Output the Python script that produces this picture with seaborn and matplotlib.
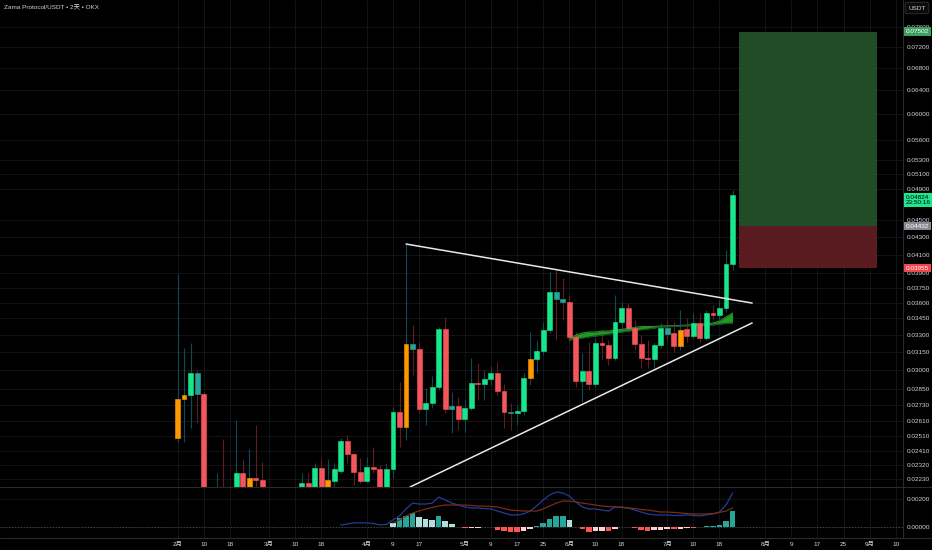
import numpy as np
import pandas as pd
import matplotlib
matplotlib.use("Agg")
import matplotlib.pyplot as plt
import matplotlib.dates as mdates
import matplotlib.ticker as mticker
import matplotlib.transforms as mtransforms
from matplotlib.lines import Line2D
from matplotlib import font_manager
import seaborn as sns

# ---- data (2-day candles, OKX ZAMA/USDT) ----
first_candle = "2026-02-02"
opens = [0.02495, 0.02773, 0.02803, 0.02976, 0.02811, 0.01998, 0.01971, 0.02081, 0.02025, 0.02138,
         0.02269, 0.02138, 0.02239, 0.02227, 0.02110, 0.02053, 0.02081, 0.02042, 0.02110, 0.02138,
         0.02209, 0.02138, 0.02300, 0.02138, 0.02221, 0.02282, 0.02475, 0.02389, 0.02275, 0.02221,
         0.02306, 0.02294, 0.02138, 0.02294, 0.02677, 0.02570, 0.03219, 0.03176, 0.02699, 0.02743,
         0.02865, 0.03353, 0.02699, 0.02721, 0.02627, 0.02707, 0.02896, 0.02888, 0.02928, 0.02976,
         0.02834, 0.02677, 0.02670, 0.02685, 0.02936, 0.03091, 0.03158, 0.03344, 0.03706, 0.03637,
         0.03607, 0.03281, 0.02912, 0.02992, 0.02888, 0.03228, 0.03210, 0.03099, 0.03417, 0.03549,
         0.03362, 0.03219, 0.03099, 0.03091, 0.03210, 0.03362, 0.03316, 0.03202, 0.03353, 0.03290,
         0.03408, 0.03272, 0.03501, 0.03482, 0.03549, 0.03998]
closes = [0.02773, 0.02803, 0.02976, 0.02811, 0.01998, 0.01971, 0.02081, 0.02025, 0.02138, 0.02269,
          0.02138, 0.02239, 0.02227, 0.02110, 0.02053, 0.02081, 0.02042, 0.02110, 0.02138, 0.02209,
          0.02138, 0.02300, 0.02138, 0.02227, 0.02294, 0.02475, 0.02389, 0.02275, 0.02221, 0.02306,
          0.02294, 0.02138, 0.02294, 0.02677, 0.02570, 0.03219, 0.03176, 0.02699, 0.02743, 0.02865,
          0.03353, 0.02699, 0.02721, 0.02627, 0.02707, 0.02896, 0.02888, 0.02928, 0.02976, 0.02834,
          0.02677, 0.02670, 0.02685, 0.02936, 0.03091, 0.03158, 0.03344, 0.03706, 0.03637, 0.03607,
          0.03281, 0.02912, 0.02992, 0.02888, 0.03228, 0.03210, 0.03099, 0.03417, 0.03549, 0.03362,
          0.03219, 0.03099, 0.03091, 0.03210, 0.03362, 0.03307, 0.03202, 0.03344, 0.03290, 0.03408,
          0.03272, 0.03501, 0.03482, 0.03549, 0.03998, 0.04824]
highs = [0.03891, 0.03184, 0.03228, 0.03000, 0.02826, 0.02110, 0.02269, 0.02488, 0.02191, 0.02620,
         0.02357, 0.02422, 0.02585, 0.02338, 0.02138, 0.02121, 0.02110, 0.02138, 0.02167, 0.02269,
         0.02269, 0.02332, 0.02357, 0.02357, 0.02332, 0.02495, 0.02516, 0.02396, 0.02363, 0.02370,
         0.02435, 0.02319, 0.02332, 0.02714, 0.02904, 0.04221, 0.03389, 0.03236, 0.02857, 0.02952,
         0.03371, 0.03464, 0.02826, 0.02788, 0.02773, 0.03099, 0.03058, 0.03000, 0.03033, 0.03066,
         0.02888, 0.02743, 0.02729, 0.02976, 0.03325, 0.03245, 0.03417, 0.03913, 0.03934, 0.03850,
         0.03676, 0.03325, 0.03141, 0.03236, 0.03272, 0.03344, 0.03254, 0.03676, 0.03607, 0.03597,
         0.03435, 0.03298, 0.03254, 0.03228, 0.03408, 0.03435, 0.03417, 0.03530, 0.03454, 0.03501,
         0.03501, 0.03530, 0.03578, 0.03627, 0.04153, 0.04886]
lows = [0.02468, 0.02468, 0.02564, 0.02599, 0.01945, 0.01893, 0.01945, 0.01998, 0.01998, 0.02121,
        0.02110, 0.02110, 0.02138, 0.02081, 0.02025, 0.02042, 0.02025, 0.02025, 0.02081, 0.02110,
        0.02110, 0.02121, 0.02121, 0.02121, 0.02167, 0.02269, 0.02332, 0.02197, 0.02209, 0.02215,
        0.02269, 0.02121, 0.02121, 0.02239, 0.02435, 0.02482, 0.02960, 0.02670, 0.02585, 0.02707,
        0.02842, 0.02670, 0.02529, 0.02550, 0.02536, 0.02692, 0.02766, 0.02766, 0.02881, 0.02803,
        0.02564, 0.02550, 0.02585, 0.02656, 0.02881, 0.02976, 0.03125, 0.03316, 0.03254, 0.03435,
        0.03236, 0.02865, 0.02751, 0.02842, 0.02865, 0.03082, 0.03041, 0.03082, 0.03344, 0.03325,
        0.03167, 0.03016, 0.03016, 0.03016, 0.03184, 0.03254, 0.03150, 0.03167, 0.03236, 0.03272,
        0.03236, 0.03254, 0.03435, 0.03435, 0.03511, 0.03934]
# bar colour codes as painted on the chart: g green, r red, o orange, t teal
bar_codes = list("oogtrrgrgg" "rorrrgrggg" "rgroggrrrg" "rrggrotrgg"
                 "grtrggrggr" "rtggogggtt" "rrgrgrrggr" "rrrggtrorg" "rgrggg")

# moving-average ribbon, from candle 60 on
ribbon_start = 60
ribbon_fast = [0.03263, 0.03298, 0.03316, 0.03325, 0.03325, 0.03334, 0.03334, 0.03344, 0.03349, 0.03358,
               0.03366, 0.03375, 0.03376, 0.03376, 0.03380, 0.03382, 0.03383, 0.03385, 0.03389, 0.03390,
               0.03394, 0.03398, 0.03408, 0.03426, 0.03464, 0.03501]
ribbon_slow = [0.03254, 0.03263, 0.03272, 0.03281, 0.03290, 0.03298, 0.03307, 0.03316, 0.03325, 0.03334,
               0.03340, 0.03346, 0.03353, 0.03362, 0.03371, 0.03373, 0.03376, 0.03380, 0.03381, 0.03385,
               0.03386, 0.03389, 0.03390, 0.03398, 0.03403, 0.03408]

# MACD pane
macd_start = 25
macd_line = [0.00014, 0.00021, 0.00029, 0.00029, 0.00029, 0.00025, 0.00014, 0.00018, 0.00050, 0.00079,
             0.00129, 0.00171, 0.00164, 0.00164, 0.00171, 0.00214, 0.00193, 0.00171, 0.00157, 0.00143,
             0.00136, 0.00136, 0.00132, 0.00129, 0.00114, 0.00100, 0.00086, 0.00086, 0.00093, 0.00114,
             0.00150, 0.00193, 0.00229, 0.00250, 0.00243, 0.00221, 0.00179, 0.00143, 0.00129, 0.00129,
             0.00121, 0.00114, 0.00143, 0.00143, 0.00136, 0.00121, 0.00107, 0.00093, 0.00086, 0.00086,
             0.00086, 0.00082, 0.00082, 0.00086, 0.00082, 0.00079, 0.00086, 0.00093, 0.00107, 0.00157,
             0.00243]
signal_start = 33
signal_line = [0.00029, 0.00050, 0.00079, 0.00100, 0.00114, 0.00129, 0.00139, 0.00150, 0.00157, 0.00157,
               0.00157, 0.00157, 0.00154, 0.00150, 0.00150, 0.00146, 0.00143, 0.00132, 0.00121, 0.00118,
               0.00114, 0.00114, 0.00114, 0.00129, 0.00150, 0.00171, 0.00186, 0.00186, 0.00179, 0.00171,
               0.00164, 0.00157, 0.00150, 0.00146, 0.00143, 0.00139, 0.00136, 0.00132, 0.00125, 0.00121,
               0.00114, 0.00107, 0.00107, 0.00104, 0.00100, 0.00096, 0.00093, 0.00093, 0.00093, 0.00096,
               0.00104, 0.00114, 0.00136]
histogram = [0.00030, 0.00062, 0.00078, 0.00100, 0.00072, 0.00054, 0.00050, 0.00076, 0.00042, 0.00021,
             0.00003, -0.00010, -0.00007, -0.00005, 0.00002, -0.00003, -0.00019, -0.00026, -0.00033, -0.00038,
             -0.00026, -0.00012, 0.00010, 0.00029, 0.00057, 0.00076, 0.00077, 0.00052, 0.00002, -0.00014,
             -0.00038, -0.00031, -0.00026, -0.00029, -0.00012, 0.00002, -0.00002, -0.00010, -0.00019, -0.00026,
             -0.00025, -0.00019, -0.00012, -0.00017, -0.00012, -0.00009, -0.00010, -0.00002, 0.00005, 0.00010,
             0.00017, 0.00045, 0.00117]

# drawings
upper_line_dates = ["2026-04-13 00:00", "2026-07-28 00:00"]
upper_line_prices = [0.04221, 0.03597]
lower_line_dates = ["2026-04-14 05:00", "2026-07-28 00:00"]
lower_line_prices = [0.02185, 0.03408]
box_dates = ["2026-07-24 00:00", "2026-09-04 05:00"]
target_price, entry_price, stop_price = 0.07502, 0.04432, 0.03955
last_price, countdown = 0.04824, "23:50:16"

price_ticks = [0.0223, 0.0232, 0.0241, 0.0251, 0.0261, 0.0273, 0.0285, 0.0300, 0.0315, 0.0330,
               0.0345, 0.0360, 0.0375, 0.0390, 0.0410, 0.0430, 0.0450, 0.0490, 0.0510, 0.0530,
               0.0560, 0.0600, 0.0640, 0.0680, 0.0720, 0.0760]
date_ticks = ["2026-02-02", "2026-02-10", "2026-02-18", "2026-03-02", "2026-03-10", "2026-03-18",
              "2026-04-01", "2026-04-09", "2026-04-17", "2026-05-01", "2026-05-09", "2026-05-17",
              "2026-05-25", "2026-06-02", "2026-06-10", "2026-06-18", "2026-07-02", "2026-07-10",
              "2026-07-18", "2026-08-01", "2026-08-09", "2026-08-17", "2026-08-25", "2026-09-02",
              "2026-09-10"]
date_labels = ["2月", "10", "18", "3月", "10", "18", "4月", "9", "17", "5月", "9", "17", "25",
               "6月", "10", "18", "7月", "10", "18", "8月", "9", "17", "25", "9月", "10"]

# ---- style ----
BG = "#000000"
GRID = "#15171c"
TXT = "#d1d4dc"
SEP = "#2a2a2a"
sns.set_theme(style="dark", rc={"axes.facecolor": BG, "figure.facecolor": BG,
                                "savefig.facecolor": BG, "axes.edgecolor": SEP})
plt.rcParams["font.family"] = ["DejaVu Sans", "Noto Sans CJK SC"]

installed = {f.name for f in font_manager.fontManager.ttflist}
if "Liberation Sans Narrow" in installed:
    LBL_FAM, LBL_SIZE = ["Liberation Sans Narrow", "Noto Sans CJK SC"], 5.4
else:
    LBL_FAM, LBL_SIZE = ["Liberation Sans", "Noto Sans CJK SC"], 4.6

body_col = {"g": "#19e68c", "r": "#f5565b", "o": "#ff9800", "t": "#26a69a"}
WICK_UP, WICK_DN = "#0f4a52", "#5e1d1f"


def to_num(strings):
    return mdates.date2num(pd.to_datetime(strings, format="%Y-%m-%d %H:%M").to_pydatetime())


dates = pd.date_range(first_candle, periods=len(opens), freq="2D")
x = mdates.date2num(dates.to_pydatetime())
o = np.array(opens); c = np.array(closes); h = np.array(highs); l = np.array(lows)

W, H = 932, 550
fig = plt.figure(figsize=(W / 100, H / 100), dpi=100)
right = 903 / W
ax = fig.add_axes([0, 1 - 487 / H, right, 487 / H])
ax2 = fig.add_axes([0, 1 - 538 / H, right, 51 / H], sharex=ax)

x0 = mdates.date2num(pd.Timestamp(first_candle))
x_left = x0 - 177.5 / 3.265
x_right = x0 + (903 - 177.5) / 3.265

# ---- price pane ----
ax.set_yscale("log")
ax.set_ylim(0.02185, 0.08177)
ax.set_xlim(x_left, x_right)

# position tool box (behind candles)
bx = to_num(box_dates)
ax.fill_between(bx, entry_price, target_price, color="#224c25", lw=0, zorder=1)
ax.fill_between(bx, stop_price, entry_price, color="#5a1b20", lw=0, zorder=1)

# wicks + bodies
up = c >= o
ax.vlines(x, l, h, colors=np.where(up, WICK_UP, WICK_DN), lw=0.8, zorder=2)
cols = [body_col[k] for k in bar_codes]
ax.bar(x, np.abs(c - o), bottom=np.minimum(o, c), width=1.5, color=cols,
       edgecolor=cols, linewidth=0.4, zorder=3)

# moving-average ribbon
rx = x[ribbon_start:]
ax.fill_between(rx, ribbon_slow, ribbon_fast, color="#1f9a24", lw=0, zorder=2.5)
sns.lineplot(x=rx, y=ribbon_fast, ax=ax, color="#2a8a2e", lw=0.8, zorder=2.6)
sns.lineplot(x=rx, y=ribbon_slow, ax=ax, color="#1b4d1e", lw=0.8, zorder=2.6)

# triangle trend lines
for d, p in [(upper_line_dates, upper_line_prices), (lower_line_dates, lower_line_prices)]:
    sns.lineplot(x=to_num(d), y=p, ax=ax, color="#e8e8e8", lw=1.1, zorder=4)

ax.yaxis.set_major_locator(mticker.FixedLocator(price_ticks))
ax.yaxis.set_minor_locator(mticker.NullLocator())
ax.yaxis.set_major_formatter(mticker.FuncFormatter(lambda v, _: f"{v:.5f}"))
ax.yaxis.tick_right()
ax.tick_params(axis="y", length=0, pad=2.5, labelsize=LBL_SIZE, labelcolor=TXT)
ax.tick_params(axis="x", length=0, labelbottom=False)
ax.grid(True, color=GRID, lw=0.6)
ax.set_xlabel(""); ax.set_ylabel("")

# coloured price tags on the scale
tag = mtransforms.blended_transform_factory(ax.transAxes, ax.transData)
for price, txt, fc, tc in [(target_price, f"{target_price:.5f}", "#3f9f63", "white"),
                           (entry_price, f"{entry_price:.5f}", "#868993", "white"),
                           (stop_price, f"{stop_price:.5f}", "#f0454a", "white")]:
    ax.text(1.003, price, txt, transform=tag, ha="left", va="center", fontsize=LBL_SIZE,
            family=LBL_FAM, color=tc, clip_on=False, zorder=10,
            bbox=dict(boxstyle="square,pad=0.3", fc=fc, ec="none"))
# last price tag: first line sits on the price, countdown below it
last_tag = tag + mtransforms.ScaledTranslation(0, -3.5 / 72, fig.dpi_scale_trans)
ax.text(1.003, last_price, f"{last_price:.5f}\n{countdown}", transform=last_tag, ha="left",
        va="center", fontsize=LBL_SIZE, family=LBL_FAM, color="black", linespacing=1.0,
        clip_on=False, zorder=10, bbox=dict(boxstyle="square,pad=0.3", fc="#1ee88d", ec="none"))

# ---- MACD pane ----
hx = x[signal_start:]
hist = np.array(histogram)
prev = np.r_[hist[0] + 1e-6, hist[:-1]]
hcol = np.where(hist >= 0, np.where(hist >= prev, "#26a69a", "#b2dfdb"),
                np.where(hist <= prev, "#ff5252", "#ffcdd2"))
ax2.bar(hx, hist, width=1.7, color=hcol, lw=0, zorder=2)
ax2.axhline(0, color="#4a4a4a", lw=0.7, ls=(0, (1, 2)), zorder=1)
sns.lineplot(x=x[macd_start:], y=macd_line, ax=ax2, color="#1f3f96", lw=0.9, zorder=3)
sns.lineplot(x=hx, y=signal_line, ax=ax2, color="#7a2c14", lw=0.9, zorder=3)
ax2.set_ylim(-0.00079, 0.00286)
ax2.yaxis.set_major_locator(mticker.FixedLocator([0.0, 0.002]))
ax2.yaxis.set_major_formatter(mticker.FuncFormatter(lambda v, _: f"{v:.5f}"))
ax2.yaxis.tick_right()
ax2.tick_params(axis="y", length=0, pad=2.5, labelsize=LBL_SIZE, labelcolor=TXT)
ax2.grid(True, color=GRID, lw=0.6)
ax2.set_xlabel(""); ax2.set_ylabel("")

tick_x = mdates.date2num(pd.to_datetime(date_ticks).to_pydatetime())
ax2.xaxis.set_major_locator(mticker.FixedLocator(tick_x))
ax2.xaxis.set_major_formatter(mticker.FixedFormatter(date_labels))
ax2.tick_params(axis="x", length=0, pad=3, labelsize=LBL_SIZE, labelcolor=TXT)
ax2.set_xlim(x_left, x_right)

for a in (ax, ax2):
    for lab in a.get_yticklabels() + a.get_xticklabels():
        lab.set_family(LBL_FAM)
    for s in ("top", "left", "bottom"):
        a.spines[s].set_visible(False)
    a.spines["right"].set_color(SEP)
    a.spines["right"].set_linewidth(0.8)

# pane separators run across the price scale too
for yy in (487, 538):
    fig.add_artist(Line2D([0, 1], [1 - yy / H] * 2, transform=fig.transFigure, color=SEP, lw=0.8))

# header and unit button
fig.text(4 / W, 1 - 8 / H, "Zama Protocol/USDT • 2天 • OKX", fontsize=LBL_SIZE, family=LBL_FAM,
         color=TXT, va="center")
fig.text(917 / W, 1 - 8 / H, "USDT", fontsize=LBL_SIZE, family=LBL_FAM, color=TXT, ha="center",
         va="center", bbox=dict(boxstyle="round,pad=0.5,rounding_size=0.3", fc="#0c0c0c",
                                ec="#2a2d33", lw=0.7))

fig.savefig("out.png", dpi=100)
